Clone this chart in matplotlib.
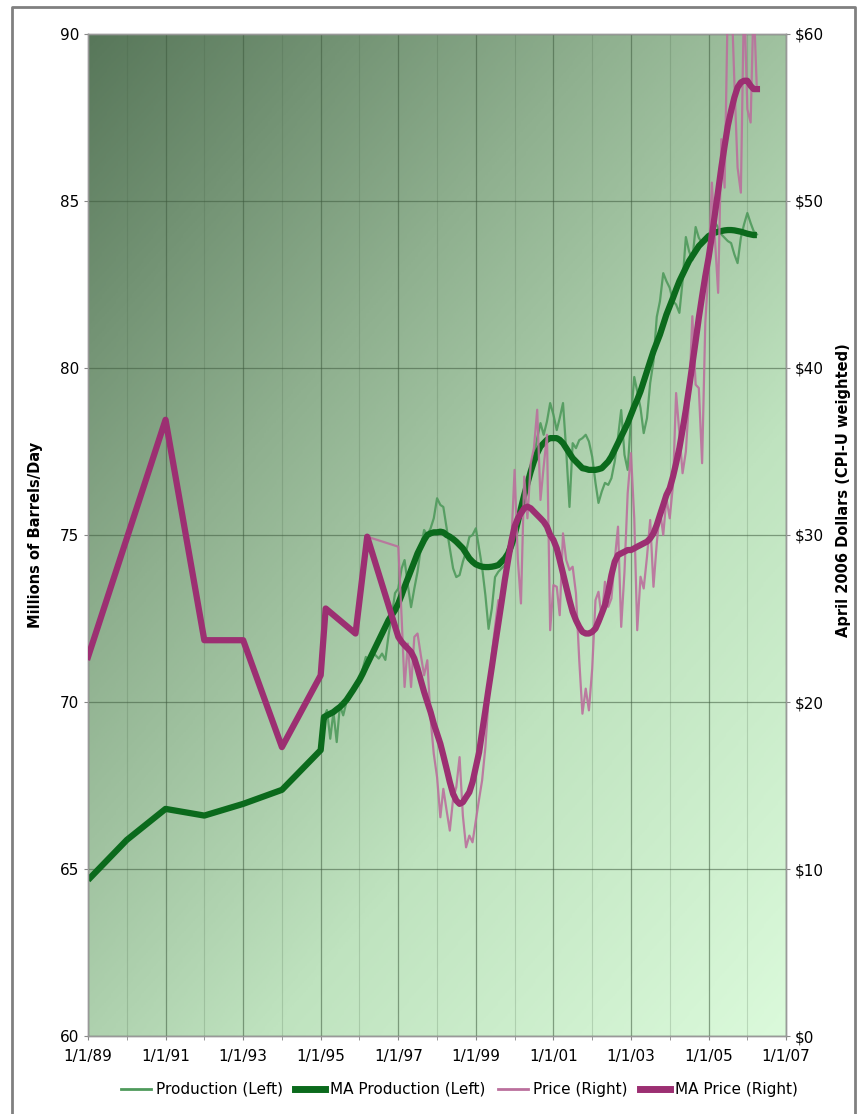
import matplotlib
matplotlib.use("Agg")
import matplotlib.pyplot as plt
import matplotlib.dates as mdates
from matplotlib.colors import LinearSegmentedColormap
from matplotlib.lines import Line2D
import numpy as np
import pandas as pd

# --- data ----------------------------------------------------------------
# production (millions of barrels/day): annual points, then monthly from Feb 1995
prod_annual_dates = ["1989-01-01", "1990-01-01", "1991-01-01", "1992-01-01",
                     "1993-01-01", "1994-01-01", "1995-01-01"]
prod_annual = [64.67, 65.87, 66.8, 66.6, 66.95, 67.37, 68.56]

prod_monthly = [
    69.55, 69.76, 68.9, 69.7, 68.8, 69.9, 69.6, 70.0, 70.1, 70.3, 70.6,
    70.66, 71.0, 71.35, 71.2, 71.5, 71.4, 71.3, 71.45, 71.26, 72.0, 72.6, 73.26,
    73.4, 74.0, 74.25, 73.5, 72.84, 73.4, 73.9, 74.6, 75.15, 75.0, 75.2, 75.5,
    76.1, 75.9, 75.84, 75.2, 74.6, 74.0, 73.74, 73.8, 74.2, 74.5, 74.94, 75.0,
    75.2, 74.6, 74.04, 73.2, 72.19, 72.8, 73.74, 73.9, 74.0, 74.1, 74.3, 74.5,
    74.76, 75.4, 75.96, 76.2, 76.6, 77.0, 77.34, 77.9, 78.35, 78.0, 78.4, 78.95,
    78.6, 78.14, 78.5, 78.95, 77.54, 75.84, 77.75, 77.6, 77.84, 77.9, 78.0, 77.8,
    77.34, 76.56, 75.96, 76.3, 76.56, 76.5, 76.7, 77.2, 77.93, 78.74, 77.4, 76.95,
    78.5, 79.73, 79.3, 78.8, 78.05, 78.5, 79.55, 80.2, 81.53, 82.0, 82.84, 82.6,
    82.4, 82.0, 81.9, 81.65, 82.6, 83.92, 83.5, 83.23, 84.22, 83.9, 83.74, 83.9,
    84.0, 84.1, 84.37, 84.2, 84.0, 83.9, 83.8, 83.74, 83.4, 83.14, 83.9, 84.3,
    84.64, 84.34, 84.1, 84.0,
]
ma_prod_monthly = [
    69.55, 69.6, 69.65, 69.7, 69.78, 69.85, 69.95, 70.06, 70.2, 70.35, 70.5,
    70.66, 70.85, 71.05, 71.25, 71.45, 71.65, 71.85, 72.05, 72.25, 72.45, 72.6, 72.75,
    72.95, 73.2, 73.45, 73.7, 73.95, 74.2, 74.45, 74.65, 74.85, 75.0, 75.05, 75.08,
    75.08, 75.1, 75.08, 75.0, 74.95, 74.88, 74.8, 74.7, 74.6, 74.45, 74.3, 74.2,
    74.12, 74.08, 74.05, 74.04, 74.04, 74.05, 74.07, 74.1, 74.2, 74.3, 74.45, 74.7,
    75.0, 75.4, 75.8, 76.2, 76.55, 76.9, 77.2, 77.45, 77.65, 77.75, 77.85, 77.9,
    77.9, 77.9, 77.85, 77.75, 77.6, 77.45, 77.3, 77.2, 77.1, 77.0, 76.98, 76.95,
    76.95, 76.95, 76.97, 77.0, 77.1, 77.2, 77.35, 77.55, 77.75, 77.95, 78.15, 78.35,
    78.6, 78.85, 79.05, 79.3, 79.6, 79.9, 80.2, 80.5, 80.75, 81.0, 81.3, 81.6,
    81.85, 82.1, 82.35, 82.6, 82.8, 83.0, 83.2, 83.35, 83.5, 83.65, 83.75, 83.85,
    83.95, 84.0, 84.05, 84.08, 84.1, 84.12, 84.13, 84.13, 84.12, 84.1, 84.08, 84.05,
    84.02, 84.0, 83.98, 83.98,
]

# price (April 2006 dollars): irregular early points, then monthly from Jan 1997
price_early_dates = ["1989-01-01", "1991-01-01", "1992-01-01", "1993-01-01",
                     "1994-01-01", "1995-01-01", "1995-02-17", "1995-11-25",
                     "1996-03-14"]
price_early = [22.7, 36.9, 23.7, 23.7, 17.3, 21.6, 25.6, 24.1, 29.9]

price_monthly = [
    29.3, 25.1, 20.9, 23.5, 20.9, 23.9, 24.1, 22.8, 21.6, 22.5, 19.0, 16.9,
    15.5, 13.1, 14.8, 13.5, 12.3, 14.2, 14.9, 16.7, 13.2, 11.3, 12.0, 11.6,
    12.9, 14.2, 15.3, 17.3, 20.2, 22.9, 24.5, 26.1, 25.4, 27.9, 28.6, 29.5,
    33.9, 28.5, 25.9, 33.5, 31.0, 34.3, 35.2, 37.5, 32.1, 34.1, 36.0, 24.3,
    27.0, 26.9, 25.2, 30.1, 28.5, 27.9, 28.1, 26.5, 22.5, 19.3, 20.8, 19.5,
    22.0, 26.1, 26.6, 25.0, 27.2, 25.7, 26.2, 28.5, 30.5, 24.5, 27.8, 32.5,
    34.9, 31.0, 24.3, 27.5, 26.8, 28.7, 30.9, 26.9, 29.5, 31.5, 30.0, 32.2,
    31.0, 33.0, 38.5, 36.1, 33.7, 35.0, 38.1, 43.1, 39.0, 38.8, 34.3, 42.7,
    46.0, 51.1, 47.8, 44.5, 53.7, 50.8, 62.0, 63.0, 57.1, 52.0, 50.5, 62.5,
    55.5, 54.7, 62.0, 56.6,
]
ma_price_monthly = [
    23.9, 23.6, 23.4, 23.2, 23.0, 22.6, 22.0, 21.3, 20.6, 20.0, 19.4, 18.7,
    18.1, 17.5, 16.8, 16.0, 15.2, 14.5, 14.1, 13.9, 14.0, 14.3, 14.6, 15.2,
    16.1, 17.0, 18.2, 19.5, 20.8, 22.1, 23.4, 24.7, 26.0, 27.3, 28.5, 29.6,
    30.5, 31.0, 31.3, 31.6, 31.7, 31.6, 31.4, 31.2, 31.0, 30.8, 30.5, 30.0,
    29.7, 29.2, 28.5, 27.7, 26.9, 26.1, 25.4, 24.9, 24.5, 24.2, 24.1, 24.1,
    24.2, 24.4, 24.8, 25.3, 25.8, 26.6, 27.6, 28.4, 28.8, 28.9, 29.0, 29.1,
    29.1, 29.2, 29.3, 29.4, 29.5, 29.6, 29.8, 30.1, 30.6, 31.2, 31.8, 32.4,
    32.8, 33.5, 34.3, 35.2, 36.3, 37.5, 38.8, 40.2, 41.6, 43.0, 44.3, 45.5,
    46.6, 47.9, 49.2, 50.6, 52.0, 53.3, 54.5, 55.4, 56.2, 56.8, 57.1, 57.2,
    57.2, 56.9, 56.7, 56.7,
]

x_tick_years = [1989, 1991, 1993, 1995, 1997, 1999, 2001, 2003, 2005, 2007]
left_ticks = [60, 65, 70, 75, 80, 85, 90]
right_ticks = [0, 10, 20, 30, 40, 50, 60]

# --- assemble series --------------------------------------------------------
prod_dates = pd.to_datetime(prod_annual_dates).append(
    pd.date_range("1995-02-01", periods=len(prod_monthly), freq="MS"))
prod = prod_annual + prod_monthly
ma_prod = prod_annual + ma_prod_monthly

price_dates = pd.to_datetime(price_early_dates).append(
    pd.date_range("1997-01-01", periods=len(price_monthly), freq="MS"))
price = price_early + price_monthly
ma_price = price_early + ma_price_monthly

C_PROD = "#4f9a5c"
C_MA_PROD = "#0b6a1c"
C_PRICE = "#bb709d"
C_MA_PRICE = "#9c2f72"

fig = plt.figure(figsize=(8.58, 11.14), dpi=100)
ax = fig.add_axes([0.1026, 0.07, 0.8136, 0.8995])

# diagonal background gradient, dark top-left to light bottom-right
# row 0 is drawn at the top (origin="upper")
gx, gy = np.meshgrid(np.linspace(0, 1, 300), np.linspace(0, 1, 400))
grad = (gx * 0.9 + gy * 1.1) / 2.0
cmap = LinearSegmentedColormap.from_list("bg", ["#58775a", "#8fb08f", "#bfe3bf", "#dbfadb"])
x0, x1 = mdates.date2num(pd.Timestamp("1989-01-01")), mdates.date2num(pd.Timestamp("2007-01-01"))
ax.imshow(grad, cmap=cmap, extent=[x0, x1, 60, 90], aspect="auto", zorder=0, origin="upper")

ax.plot(prod_dates, prod, color=C_PROD, lw=1.6, alpha=0.9, zorder=3)
ax.plot(prod_dates, ma_prod, color=C_MA_PROD, lw=4.5, zorder=4, solid_capstyle="butt")

ax.set_xlim(x0, x1)
ax.set_ylim(60, 90)
ax.set_yticks(left_ticks)
ax.xaxis.set_minor_locator(mdates.YearLocator(1, month=1, day=1))
ax.set_xticks([mdates.date2num(pd.Timestamp(f"{y}-01-01")) for y in x_tick_years])
ax.set_xticklabels([f"1/1/{y % 100:02d}" for y in x_tick_years])
ax.grid(True, which="major", color="#3e5a3e", alpha=0.55, lw=0.9, zorder=1)
ax.grid(True, which="minor", axis="x", color="#3e5a3e", alpha=0.2, lw=0.8, zorder=1)
ax.set_axisbelow(False)
ax.tick_params(axis="both", which="both", labelsize=11, length=3, color="#888888")
ax.tick_params(axis="x", pad=6)
ax.set_ylabel("Millions of Barrels/Day", fontsize=10.5, fontweight="bold", labelpad=12)

ax2 = ax.twinx()
ax2.plot(price_dates, price, color=C_PRICE, lw=1.6, alpha=0.9, zorder=3)
ax2.plot(price_dates, ma_price, color=C_MA_PRICE, lw=4.5, zorder=4)
ax2.set_ylim(0, 60)
ax2.set_yticks(right_ticks)
ax2.set_yticklabels([f"${v}" for v in right_ticks])
ax2.tick_params(axis="y", labelsize=11, length=3, color="#888888")
ax2.set_ylabel("April 2006 Dollars (CPI-U weighted)", fontsize=10.5, fontweight="bold",
               rotation=90, labelpad=10)
ax2.yaxis.set_label_coords(1.072, 0.545)

for a in (ax, ax2):
    for s in a.spines.values():
        s.set_color("#999999")
        s.set_linewidth(1.0)

handles = [
    Line2D([], [], color=C_PROD, lw=2),
    Line2D([], [], color=C_MA_PROD, lw=5),
    Line2D([], [], color=C_PRICE, lw=2),
    Line2D([], [], color=C_MA_PRICE, lw=5),
]
labels = ["Production (Left)", "MA Production (Left)", "Price (Right)", "MA Price (Right)"]
fig.legend(handles, labels, loc="center", bbox_to_anchor=(0.535, 0.022), ncol=4,
           frameon=False, fontsize=11, handlelength=2.0, handletextpad=0.3,
           columnspacing=0.8)

# outer grey frame
fig.add_artist(Line2D([12 / 858, 12 / 858, 855 / 858, 855 / 858],
                      [0, 1 - 7 / 1114, 1 - 7 / 1114, 0],
                      transform=fig.transFigure, color="#808080", lw=2))

fig.savefig("out.png", dpi=100)
